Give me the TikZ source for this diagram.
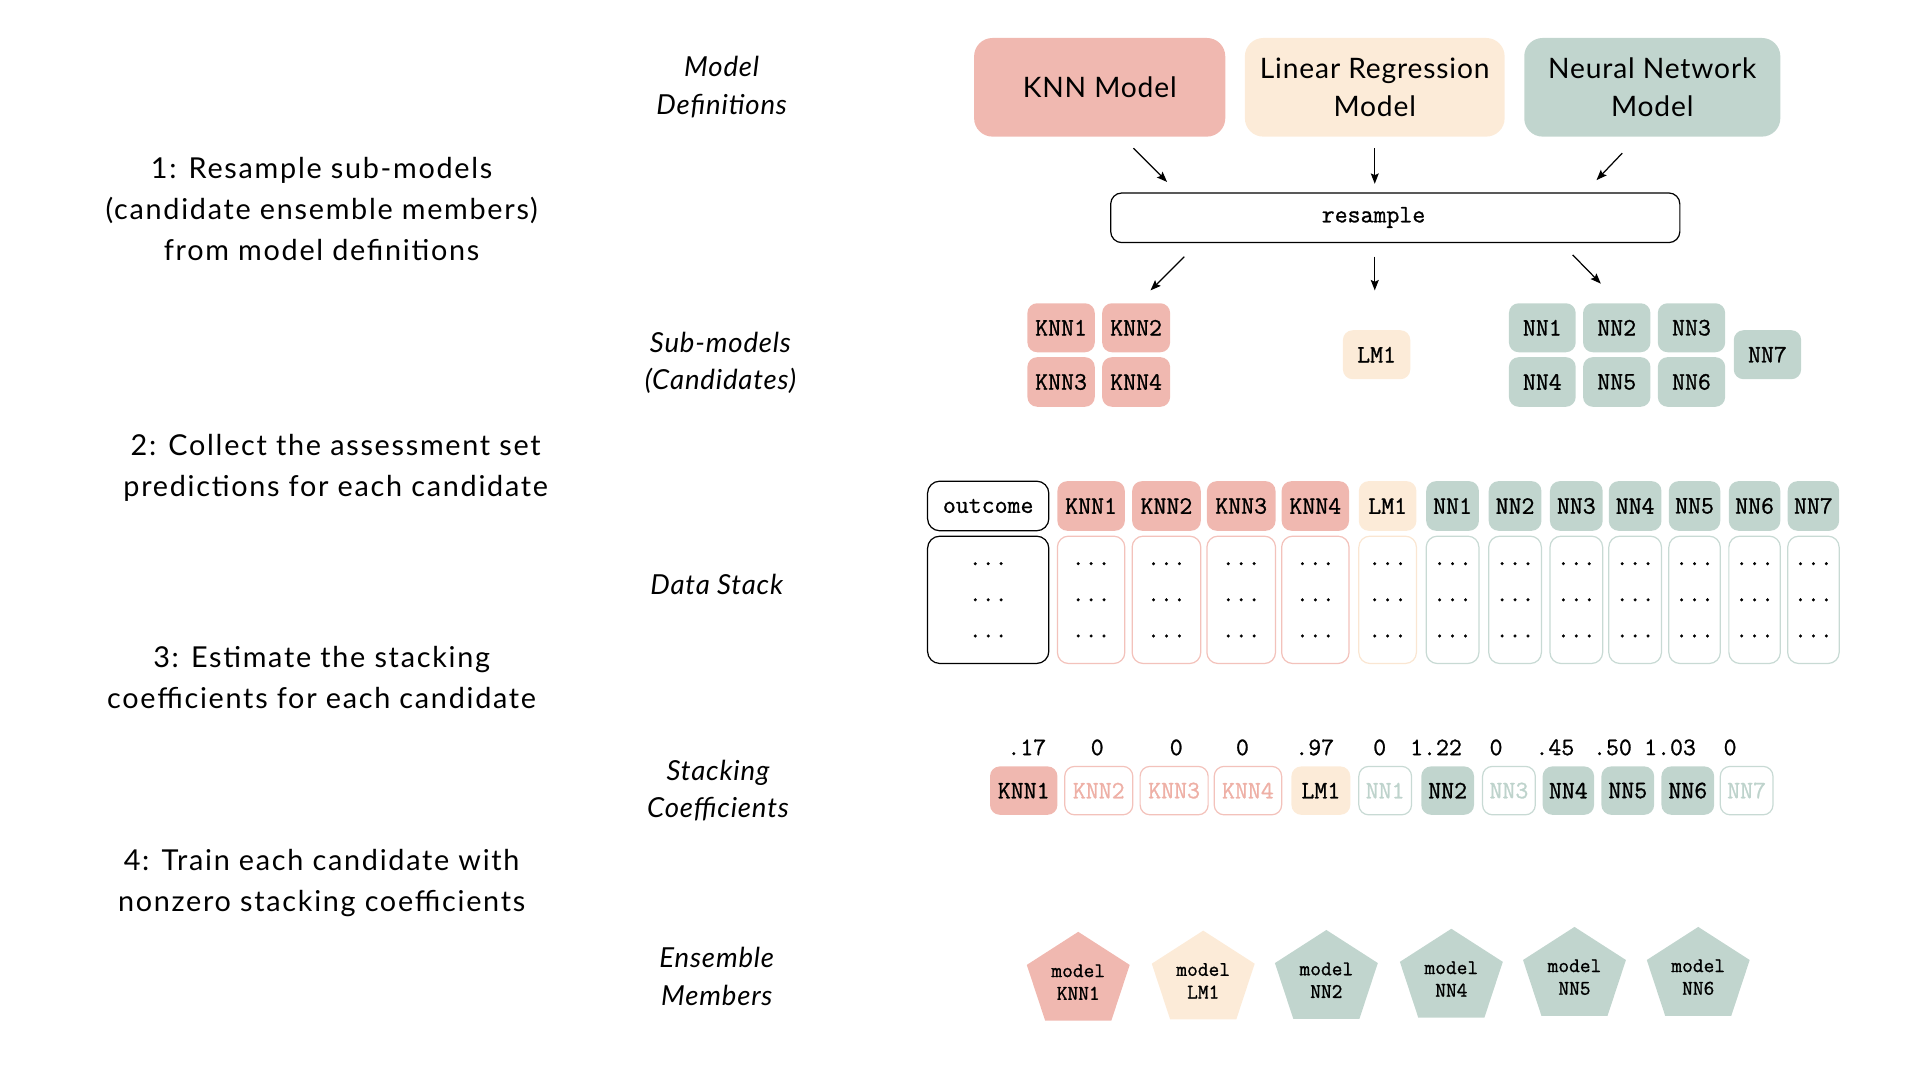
\documentclass[tikz,border=0pt]{standalone}
\usepackage{fontspec}
\setmainfont{Lato}
\newfontfamily\bigfont{Lato}[LetterSpace=6]
\newfontfamily\boxfont{Lato}[LetterSpace=3]
\newfontfamily\lblfont{Lato}[LetterSpace=3]
\newfontfamily\monof{Latin Modern Mono}[FakeBold=1]
\usetikzlibrary{arrows.meta}
\definecolor{knn}{RGB}{240,184,176}
\definecolor{lmc}{RGB}{252,235,216}
\definecolor{nnc}{RGB}{193,213,206}
\definecolor{knnpale}{RGB}{243,194,187}
\definecolor{lmpale}{RGB}{250,230,210}
\definecolor{nnpale}{RGB}{200,218,212}
\definecolor{knntxt}{RGB}{238,176,166}
\definecolor{nntxt}{RGB}{190,211,204}
\newcommand\bx[7]{\node[#6, minimum width={#3-#2}, minimum height={#5-#4}] (#1) at ({(#2+#3)/2},{(#4+#5)/2}) {#7};}
\newcommand\pent[5]{%
  \fill[#4] (#2,#3) -- (#2+42,#3+27) -- (#2+27,#3+72.5) -- (#2-27,#3+72.5) -- (#2-42,#3+27) -- cycle;
  \node[monosm, align=center] (#1) at (#2,#3+41) {model\\#5};}
\newcommand\dotcol{...\\...\\...}
\begin{document}
\begin{tikzpicture}[x=1pt,y=-1pt,
  bigtxt/.style={font=\bigfont\fontsize{23.5}{33.5}\selectfont, align=center, inner sep=0},
  lbl/.style={font=\lblfont\fontsize{22.5}{30.5}\selectfont\itshape, align=center, inner sep=0},
  topbox/.style={rounded corners=15pt, inner sep=0, outer sep=0, font=\boxfont\fontsize{23}{31}\selectfont, align=center},
  monotxt/.style={font=\monof\fontsize{20.5}{22}\selectfont},
  monosm/.style={inner sep=0, font=\monof\fontsize{17}{18.5}\selectfont},
  cell/.style={rounded corners=8pt, inner sep=0, outer sep=0, monotxt},
  body/.style={rounded corners=9pt, inner sep=0, outer sep=0, line width=1pt, align=center, font=\monof\fontsize{20.5}{29.5}\selectfont},
  arr/.style={line width=1pt, -{Stealth[length=8.5pt,width=6.5pt,inset=1.5pt]}},
  num/.style={inner sep=0, monotxt}
]
\useasboundingbox (0,0) rectangle (1567,882);

% left column
\node[bigtxt] (t1) at (262.5,170.5) {1: Resample sub-models\\(candidate ensemble members)\\from model definitions};
\node[bigtxt] (t2) at (274,382) {2: Collect the assessment set\\predictions for each candidate};
\node[bigtxt] (t3) at (262.5,553) {3: Estimate the stacking\\coefficients for each candidate};
\node[bigtxt] (t4) at (262.5,720.5) {4: Train each candidate with\\nonzero stacking coefficients};

% middle labels
\node[lbl] (l1) at (589,71) {Model\\Definitions};
\node[lbl] (l2) at (588,296) {Sub-models\\(Candidates)};
\node[lbl] (l3) at (585,477) {Data Stack};
\node[lbl] (l4) at (586,645) {Stacking\\Coefficients};
\node[lbl] (l5) at (585,797) {Ensemble\\Members};

% model definitions
\bx{knnm}{795}{1000}{31}{111.5}{topbox,fill=knn}{KNN Model}
\bx{lrm}{1016}{1228}{31}{111.5}{topbox,fill=lmc}{Linear Regression\\Model}
\bx{nnm}{1244}{1453}{31}{111.5}{topbox,fill=nnc}{Neural Network\\Model}

% resample
\bx{res}{906.5}{1371}{157.5}{198}{draw, line width=1pt, rounded corners=9pt, inner sep=0, outer sep=0}{}
\node[monotxt, inner sep=0] (restxt) at (1121,177.5) {resample};

\coordinate (a1s) at (925,121);   \coordinate (a1e) at (952.5,148.5);
\coordinate (a2s) at (1122,121);  \coordinate (a2e) at (1122,150);
\coordinate (a3s) at (1324,125);  \coordinate (a3e) at (1303,147);
\coordinate (b1s) at (966.5,209.5); \coordinate (b1e) at (939,237);
\coordinate (b2s) at (1122,209.5);  \coordinate (b2e) at (1122,237);
\coordinate (b3s) at (1283.5,208);  \coordinate (b3e) at (1306.5,231.5);
\draw[arr] (a1s) -- (a1e);
\draw[arr] (a2s) -- (a2e);
\draw[arr] (a3s) -- (a3e);
\draw[arr] (b1s) -- (b1e);
\draw[arr] (b2s) -- (b2e);
\draw[arr] (b3s) -- (b3e);

% sub-models
\bx{sk1}{838.5}{893.5}{247.5}{287.5}{cell,fill=knn}{KNN1}
\bx{sk2}{899.5}{955}{247.5}{287.5}{cell,fill=knn}{KNN2}
\bx{sk3}{838.5}{893.5}{291.5}{332}{cell,fill=knn}{KNN3}
\bx{sk4}{899.5}{955}{291.5}{332}{cell,fill=knn}{KNN4}
\bx{slm}{1096}{1151}{269.5}{309.5}{cell,fill=lmc}{LM1}
\bx{sn1}{1231.5}{1286}{247.5}{287.5}{cell,fill=nnc}{NN1}
\bx{sn2}{1292}{1347}{247.5}{287.5}{cell,fill=nnc}{NN2}
\bx{sn3}{1353}{1408}{247.5}{287.5}{cell,fill=nnc}{NN3}
\bx{sn4}{1231.5}{1286}{291.5}{332}{cell,fill=nnc}{NN4}
\bx{sn5}{1292}{1347}{291.5}{332}{cell,fill=nnc}{NN5}
\bx{sn6}{1353}{1408}{291.5}{332}{cell,fill=nnc}{NN6}
\bx{sn7}{1415}{1470}{269.5}{309.5}{cell,fill=nnc}{NN7}

% data stack headers
\bx{hout}{757}{856}{392.7}{433.2}{cell,draw,line width=1pt,rounded corners=10pt}{outcome}
\bx{hk1}{863}{918}{392.7}{433.2}{cell,fill=knn}{KNN1}
\bx{hk2}{924}{980}{392.7}{433.2}{cell,fill=knn}{KNN2}
\bx{hk3}{985}{1041}{392.7}{433.2}{cell,fill=knn}{KNN3}
\bx{hk4}{1046}{1101}{392.7}{433.2}{cell,fill=knn}{KNN4}
\bx{hlm}{1109}{1156}{392.7}{433.2}{cell,fill=lmc}{LM1}
\bx{hn1}{1164}{1207}{392.7}{433.2}{cell,fill=nnc}{NN1}
\bx{hn2}{1215}{1258}{392.7}{433.2}{cell,fill=nnc}{NN2}
\bx{hn3}{1265}{1308}{392.7}{433.2}{cell,fill=nnc}{NN3}
\bx{hn4}{1313}{1356}{392.7}{433.2}{cell,fill=nnc}{NN4}
\bx{hn5}{1362}{1404}{392.7}{433.2}{cell,fill=nnc}{NN5}
\bx{hn6}{1411}{1453}{392.7}{433.2}{cell,fill=nnc}{NN6}
\bx{hn7}{1459}{1501}{392.7}{433.2}{cell,fill=nnc}{NN7}

% data stack bodies
\bx{bout}{757}{856}{437.6}{541.5}{body,draw=black,rounded corners=10pt}{\dotcol}
\bx{bk1}{863}{918}{437.6}{541.5}{body,draw=knnpale}{\dotcol}
\bx{bk2}{924}{980}{437.6}{541.5}{body,draw=knnpale}{\dotcol}
\bx{bk3}{985}{1041}{437.6}{541.5}{body,draw=knnpale}{\dotcol}
\bx{bk4}{1046}{1101}{437.6}{541.5}{body,draw=knnpale}{\dotcol}
\bx{blm}{1109}{1156}{437.6}{541.5}{body,draw=lmpale}{\dotcol}
\bx{bn1}{1164}{1207}{437.6}{541.5}{body,draw=nnpale}{\dotcol}
\bx{bn2}{1215}{1258}{437.6}{541.5}{body,draw=nnpale}{\dotcol}
\bx{bn3}{1265}{1308}{437.6}{541.5}{body,draw=nnpale}{\dotcol}
\bx{bn4}{1313}{1356}{437.6}{541.5}{body,draw=nnpale}{\dotcol}
\bx{bn5}{1362}{1404}{437.6}{541.5}{body,draw=nnpale}{\dotcol}
\bx{bn6}{1411}{1453}{437.6}{541.5}{body,draw=nnpale}{\dotcol}
\bx{bn7}{1459}{1501}{437.6}{541.5}{body,draw=nnpale}{\dotcol}

% stacking coefficients
\node[num] (c1) at (838,610) {.17};
\node[num] (c2) at (895.5,610) {0};
\node[num] (c3) at (960,610) {0};
\node[num] (c4) at (1014,610) {0};
\node[num] (c5) at (1073,610) {.97};
\node[num] (c6) at (1126,610) {0};
\node[num] (c7) at (1172,610) {1.22};
\node[num] (c8) at (1221,610) {0};
\node[num] (c9) at (1269,610) {.45};
\node[num] (c10) at (1316,610) {.50};
\node[num] (c11) at (1363,610) {1.03};
\node[num] (c12) at (1412,610) {0};

\bx{ck1}{808}{863}{625.5}{665}{cell,fill=knn}{KNN1}
\bx{ck2}{869}{924.5}{625.5}{665}{cell,draw=knnpale,line width=1pt,text=knntxt}{KNN2}
\bx{ck3}{930.5}{986}{625.5}{665}{cell,draw=knnpale,line width=1pt,text=knntxt}{KNN3}
\bx{ck4}{991}{1046}{625.5}{665}{cell,draw=knnpale,line width=1pt,text=knntxt}{KNN4}
\bx{clm}{1054}{1102}{625.5}{665}{cell,fill=lmc}{LM1}
\bx{cn1}{1109}{1152}{625.5}{665}{cell,draw=nnpale,line width=1pt,text=nntxt}{NN1}
\bx{cn2}{1160}{1203}{625.5}{665}{cell,fill=nnc}{NN2}
\bx{cn3}{1210}{1253}{625.5}{665}{cell,draw=nnpale,line width=1pt,text=nntxt}{NN3}
\bx{cn4}{1259}{1301}{625.5}{665}{cell,fill=nnc}{NN4}
\bx{cn5}{1307}{1350}{625.5}{665}{cell,fill=nnc}{NN5}
\bx{cn6}{1356}{1399}{625.5}{665}{cell,fill=nnc}{NN6}
\bx{cn7}{1404}{1447}{625.5}{665}{cell,draw=nnpale,line width=1pt,text=nntxt}{NN7}

% ensemble members
\pent{e1}{880}{760.5}{knn}{KNN1}
\pent{e2}{982}{759.5}{lmc}{LM1}
\pent{e3}{1082.5}{759}{nnc}{NN2}
\pent{e4}{1184.5}{758}{nnc}{NN4}
\pent{e5}{1285}{756.5}{nnc}{NN5}
\pent{e6}{1386}{756.5}{nnc}{NN6}
\end{tikzpicture}
\end{document}
